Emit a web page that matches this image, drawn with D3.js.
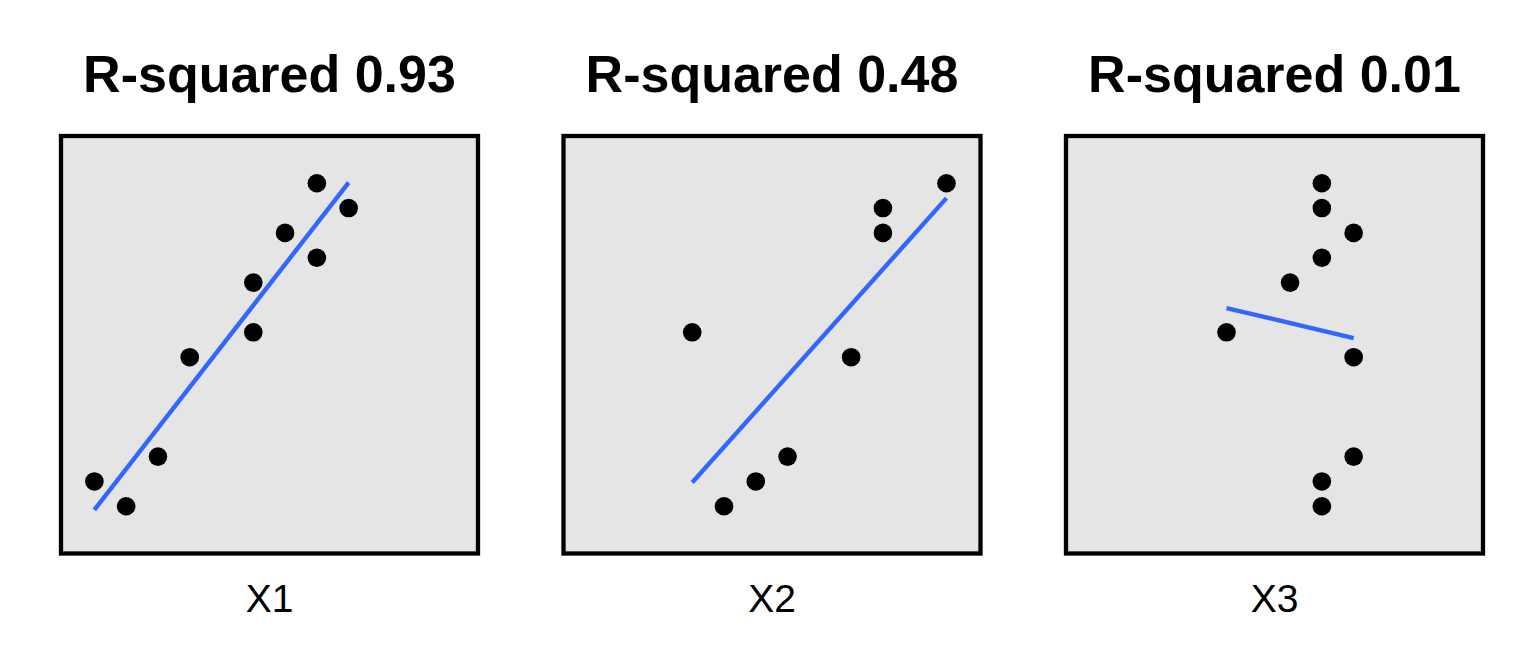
<!DOCTYPE html>
<html>
<head>
<meta charset="utf-8">
<script src="https://cdn.jsdelivr.net/npm/d3@7"></script>
<style>
  html, body { margin: 0; padding: 0; background: #ffffff; }
  svg { display: block; }
</style>
</head>
<body>
<svg id="chart" width="1536" height="672"></svg>
<script>
// ---- Data ----
const panelNames = ["X1", "X2", "X3"];
const titles = ["R-squared 0.93", "R-squared 0.48", "R-squared 0.01"];
const x1 = [1, 2, 3, 4, 6, 6, 7, 8, 8, 9];
const y1 = [2, 1, 3, 7, 8, 10, 12, 11, 14, 13];
const x2 = [4, 5, 6, 7, 9, 10, 10, 12];
const y2 = [8, 1, 2, 3, 7, 12, 13, 14];
const x3 = [8, 8, 9, 8, 7, 5, 9, 9, 8, 8];
const y3 = [14, 13, 12, 11, 10, 8, 7, 3, 2, 1];
const xDomain = [-0.05, 13.07];
const yDomain = [-0.9, 15.9];

const seriesX = [x1, x2, x3];
const seriesY = [y1, y2, y3];

// ---- Layout ----
const svg = d3.select("#chart");
const panelW = 417, panelH = 417.5, panelTop = 136;
const panelLeft = d3.scaleLinear().domain([0, 2]).range([61, 1066]);

const x = d3.scaleLinear().domain(xDomain).range([0, panelW]);
const y = d3.scaleLinear().domain(yDomain).range([panelH, 0]);

function lm(xs, ys) {
  const mx = d3.mean(xs), my = d3.mean(ys);
  let sxy = 0, sxx = 0;
  xs.forEach((v, i) => { sxy += (v - mx) * (ys[i] - my); sxx += (v - mx) * (v - mx); });
  const b = sxy / sxx, a = my - b * mx;
  const lo = d3.min(xs), hi = d3.max(xs);
  return [[lo, a + b * lo], [hi, a + b * hi]];
}

panelNames.forEach((name, i) => {
  const g = svg.append("g").attr("transform", `translate(${panelLeft(i)},${panelTop})`);
  g.append("rect").attr("width", panelW).attr("height", panelH).attr("fill", "#E5E5E5");

  const pts = seriesX[i].map((v, j) => ({ x: v, y: seriesY[i][j] }));
  g.selectAll("circle").data(pts).enter().append("circle")
    .attr("cx", d => x(d.x)).attr("cy", d => y(d.y)).attr("r", 9.3).attr("fill", "#000");

  const fit = lm(seriesX[i], seriesY[i]);
  g.append("path")
    .attr("d", d3.line().x(d => x(d[0])).y(d => y(d[1]))(fit))
    .attr("stroke", "#3366FF").attr("stroke-width", 4.4).attr("fill", "none");

  g.append("rect").attr("width", panelW).attr("height", panelH)
    .attr("fill", "none").attr("stroke", "#000").attr("stroke-width", 4.3);

  svg.append("text")
    .attr("x", panelLeft(i) + panelW / 2).attr("y", 92)
    .attr("text-anchor", "middle")
    .attr("font-family", "Liberation Sans, Arial, sans-serif")
    .attr("font-weight", "bold").attr("font-size", 52)
    .attr("fill", "#000").text(titles[i]);

  svg.append("text")
    .attr("x", panelLeft(i) + panelW / 2).attr("y", 612)
    .attr("text-anchor", "middle")
    .attr("font-family", "Liberation Sans, Arial, sans-serif")
    .attr("font-size", 39)
    .attr("fill", "#000").text(name);
});
</script>
</body>
</html>
